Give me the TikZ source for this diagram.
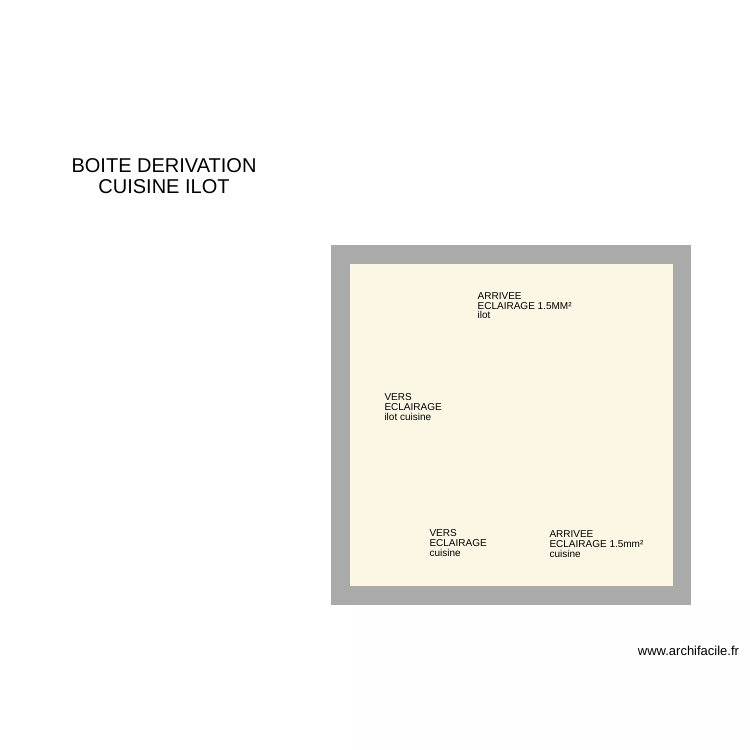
\documentclass[tikz,border=0pt]{standalone}
\usepackage{fontspec}
\setmainfont{Liberation Sans}
\definecolor{mur}{HTML}{AAAAAA}
\definecolor{sol}{HTML}{FCF7E5}
\definecolor{fond}{HTML}{FEFEFE}
\begin{document}
\begin{tikzpicture}[x=1pt,y=-1pt,
		note/.style={anchor=north west,inner sep=0pt,align=left,font=\fontsize{10}{9.8}\selectfont},
		titre/.style={anchor=north,inner sep=0pt,align=center,font=\fontsize{20}{21}\selectfont}]
     		\useasboundingbox (0,0) rectangle (750,750);
     		\fill[fond] (351,605) rectangle (750,750);
     		\fill[mur] (330.5,244.5) rectangle (691,605);
     		\fill[sol] (349.5,263.5) rectangle (672.5,586);
     		\node[titre] (titre) at (164,158) {BOITE DERIVATION\\CUISINE ILOT};
     		\node[note] (arriveeilot) at (477.5,292.3) {ARRIVEE\\ECLAIRAGE 1.5MM²\\ilot};
     		\node[note] (versilot) at (384.3,393.3) {VERS\\ECLAIRAGE\\ilot cuisine};
     		\node[note] (verscuisine) at (429.3,529.3) {VERS\\ECLAIRAGE\\cuisine};
     		\node[note] (arriveecuisine) at (549.3,530.7) {ARRIVEE\\ECLAIRAGE 1.5mm²\\cuisine};
     		\node[anchor=base west,inner sep=0pt,font=\fontsize{13}{13}\selectfont] (site) at (637.7,655) {www.archifacile.fr};
		\end{tikzpicture}
\end{document}
